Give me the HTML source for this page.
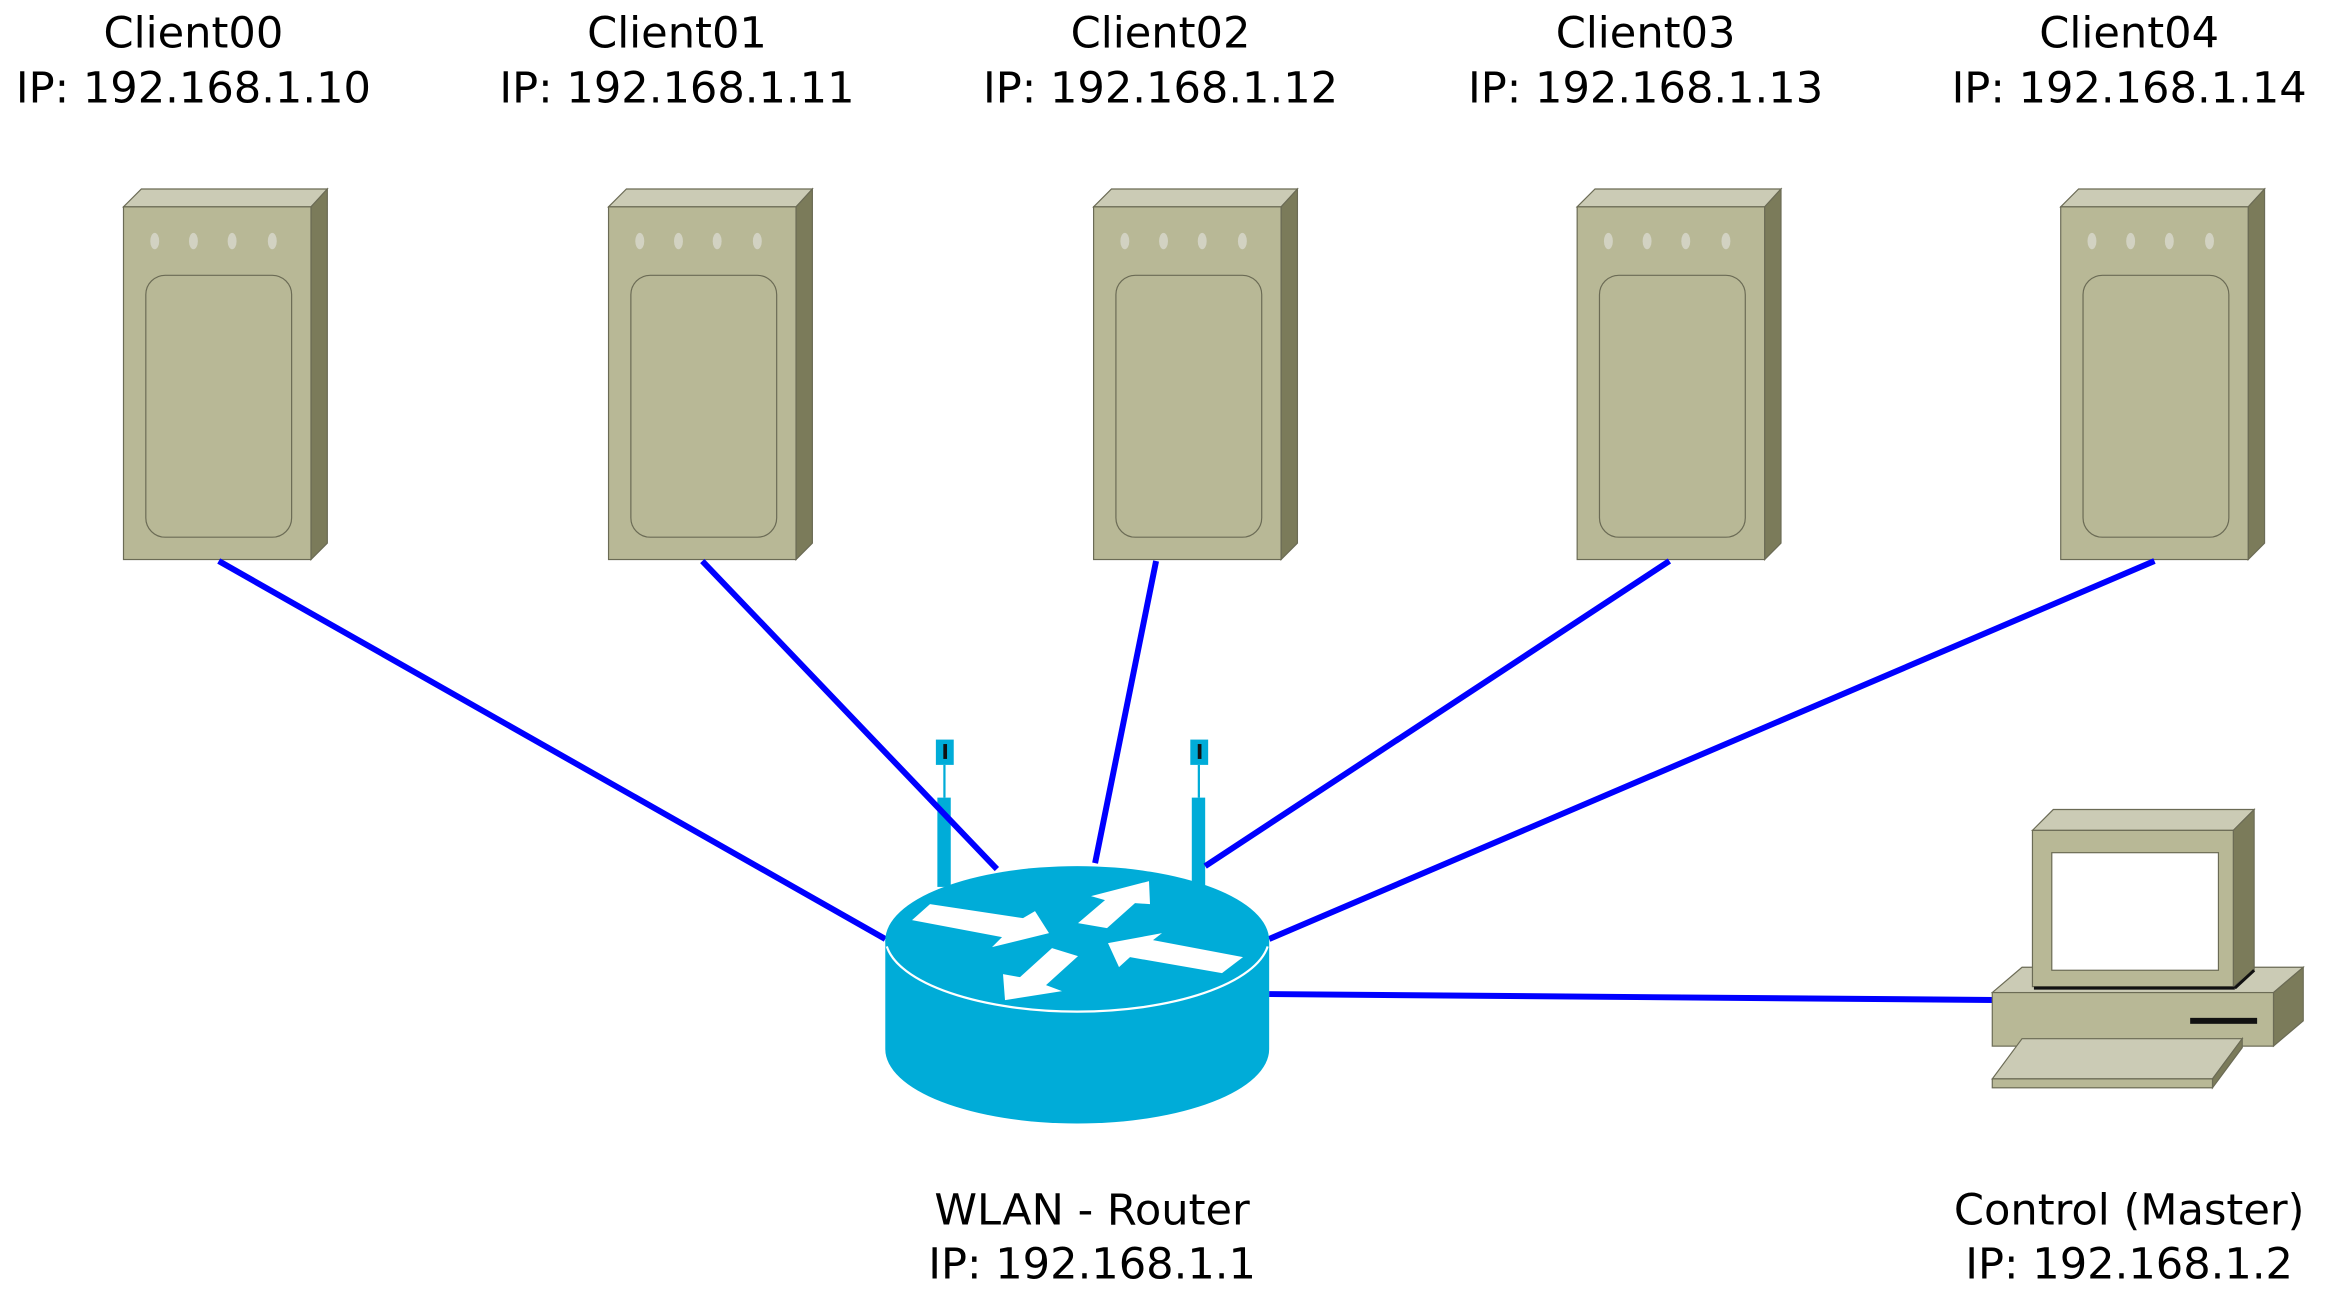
<!DOCTYPE html>
<html><head><meta charset="utf-8"><style>html,body{margin:0;padding:0;background:#fff}svg{display:block}</style></head>
<body>
<svg width="2333" height="1314" viewBox="0 0 1568 883" preserveAspectRatio="none" xmlns="http://www.w3.org/2000/svg">
<defs>
<g id="srv">
  <polygon points="0,12 12,0 137,0 126,12" fill="#cbcbb5" stroke="#6b6b55" stroke-width="0.8"/>
  <polygon points="126,12 137,0 137,238 126,249" fill="#7b7b5a" stroke="#6b6b55" stroke-width="0.8"/>
  <rect x="0" y="12" width="126" height="237" fill="#b8b896" stroke="#6b6b55" stroke-width="0.8"/>
  <rect x="15" y="58" width="98" height="176" rx="13" fill="#b8b896" stroke="#6b6b55" stroke-width="0.8"/>
  <ellipse cx="21" cy="35" rx="3" ry="5.5" fill="#d2d2c2"/>
  <ellipse cx="47" cy="35" rx="3" ry="5.5" fill="#d2d2c2"/>
  <ellipse cx="73" cy="35" rx="3" ry="5.5" fill="#d2d2c2"/>
  <ellipse cx="100" cy="35" rx="3" ry="5.5" fill="#d2d2c2"/>
</g>
</defs>
<g font-family="'DejaVu Sans','Liberation Sans',sans-serif" font-size="29" fill="#000" text-anchor="middle">
  <text x="130" y="32">Client00</text><text x="130" y="69">IP: 192.168.1.10</text>
  <text x="455" y="32">Client01</text><text x="455" y="69">IP: 192.168.1.11</text>
  <text x="780" y="32">Client02</text><text x="780" y="69">IP: 192.168.1.12</text>
  <text x="1106" y="32">Client03</text><text x="1106" y="69">IP: 192.168.1.13</text>
  <text x="1431" y="32">Client04</text><text x="1431" y="69">IP: 192.168.1.14</text>
  <text x="734" y="823">WLAN - Router</text><text x="734" y="859">IP: 192.168.1.1</text>
  <text x="1431" y="823">Control (Master)</text><text x="1431" y="859">IP: 192.168.1.2</text>
</g>
<use href="#srv" x="83" y="127"/>
<use href="#srv" x="409" y="127"/>
<use href="#srv" x="735" y="127"/>
<use href="#srv" x="1060" y="127"/>
<use href="#srv" x="1385" y="127"/>
<g fill="#00acd8">
  <rect x="630" y="536" width="9" height="60"/><rect x="629" y="497" width="12" height="17"/><rect x="634" y="514" width="1.5" height="22"/>
  <rect x="801" y="536" width="9" height="60"/><rect x="800" y="497" width="12" height="17"/><rect x="805" y="514" width="1.5" height="22"/>
</g>
<rect x="634" y="500" width="2.5" height="10" fill="#111"/>
<rect x="805" y="500" width="2.5" height="10" fill="#111"/>
<g stroke="#0000ff" stroke-width="4" fill="none">
  <line x1="147" y1="377" x2="595" y2="631"/>
  <line x1="472" y1="377" x2="670" y2="584"/>
  <line x1="777" y1="377" x2="736" y2="580"/>
  <line x1="1122" y1="377" x2="810" y2="582"/>
  <line x1="1448" y1="377" x2="853" y2="631"/>
  <line x1="853" y1="668" x2="1340" y2="672"/>
</g>
<path d="M595,632 L595,705 A129,50 0 0 0 853,705 L853,632 Z" fill="#00acd8"/>
<ellipse cx="724" cy="632" rx="129" ry="50" fill="#00acd8"/>
<path d="M596,636 A129,50 0 0 0 852,636" fill="none" stroke="#fff" stroke-width="1.5"/>
<g transform="scale(0.6721)" fill="#fff">
  <polygon points="912,920 930,904 1023,918 1035,911 1049,933 992,947 1002,937"/>
  <polygon points="1078,923 1105,900 1091,896 1149,881 1150,904 1135,903 1107,928"/>
  <polygon points="1243,957 1222,973 1130,957 1119,967 1108,943 1162,933 1153,940"/>
  <polygon points="1078,956 1052,948 1020,977 1003,974 1005,1000 1062,991 1046,985"/>
</g>
<g stroke="#6b6b55" stroke-width="0.8">
  <polygon points="1339,667 1359,650 1548,650 1528,667" fill="#cbcbb5"/>
  <polygon points="1528,667 1548,650 1548,686 1528,703" fill="#7b7b5a"/>
  <rect x="1339" y="667" width="189" height="36" fill="#b8b896"/>
  <polygon points="1366,558 1380,544 1515,544 1501,558" fill="#cbcbb5"/>
  <polygon points="1501,558 1515,544 1515,652 1501,663" fill="#7b7b5a"/>
  <rect x="1366" y="558" width="135" height="105" fill="#b8b896"/>
  <rect x="1379" y="573" width="112" height="79" fill="#fff"/>
  <polygon points="1359,698 1507,698 1487,725 1339,725" fill="#cbcbb5"/>
  <polygon points="1507,698 1507,704 1487,731 1487,725" fill="#7b7b5a"/>
  <rect x="1339" y="725" width="148" height="6" fill="#b8b896"/>
</g>
<line x1="1367" y1="664" x2="1502" y2="664" stroke="#111" stroke-width="2"/>
<line x1="1502" y1="664" x2="1515" y2="652" stroke="#111" stroke-width="2"/>
<rect x="1472" y="684" width="45" height="4" fill="#111"/>
</svg>
</body></html>
